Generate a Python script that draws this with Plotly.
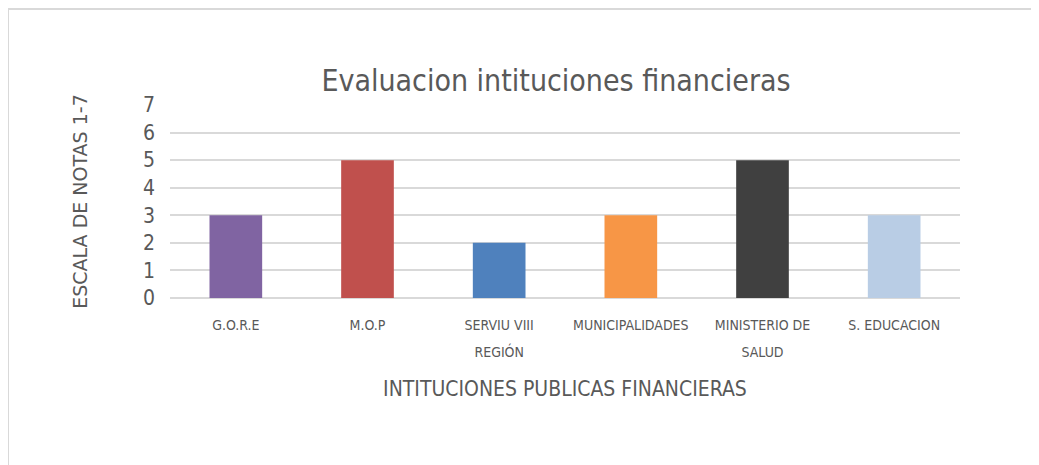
import plotly.graph_objects as go

categories = ["G.O.R.E", "M.O.P", "SERVIU VIII|REGIÓN", "MUNICIPALIDADES", "MINISTERIO DE|SALUD", "S. EDUCACION"]
values = [3, 5, 2, 3, 5, 3]
colors = ["#8064A2", "#C0504D", "#4F81BD", "#F79646", "#404040", "#B9CDE5"]
y_ticks = [0, 1, 2, 3, 4, 5, 6, 7]

# page body has an 8px offset
OFF = 8
W, H = 1031, 457
ML, MR, MT, MB = 170 - OFF, 79, 105 - OFF, 167
FONT = "Liberation Sans Narrow, DejaVu Sans Condensed, Arial Narrow, sans-serif"

def fmt(label):
    return "<br>".join('<span style="font-size:14px">%s</span>' % p for p in label.split("|"))

tick_text = [fmt(c) for c in categories]

fig = go.Figure(go.Bar(x=list(range(len(categories))), y=values,
                       marker=dict(color=colors, line=dict(width=0)), showlegend=False))

pw = W - ML - MR
ph = H - MT - MB
def px_x(p):
    return (p - OFF - ML) / pw
def px_y(p):
    return (H - MB - (p - OFF)) / ph

fig.update_layout(
    width=W, height=H,
    margin=dict(l=ML, r=MR, t=MT, b=MB),
    paper_bgcolor="white", plot_bgcolor="white",
    font=dict(family=FONT, color="#595959"),
    bargap=0.6,
    title=dict(text="Evaluacion intituciones financieras", x=px_x(556), xref="paper", xanchor="center",
               y=1 - (80 - OFF) / H, yanchor="middle", font=dict(size=30, color="#595959", family=FONT)),
    xaxis=dict(tickvals=list(range(len(categories))), ticktext=tick_text, range=[-0.5, len(categories) - 0.5],
               showgrid=False, showline=False, zeroline=False, ticks="",
               tickfont=dict(size=21, color="#595959"), ticklabelstandoff=10,
               title=dict(text="INTITUCIONES PUBLICAS FINANCIERAS", font=dict(size=21, color="#595959"), standoff=22)),
    yaxis=dict(range=[0, 7], tickvals=y_ticks, showgrid=True, gridcolor="#D9D9D9", gridwidth=2,
               zeroline=True, zerolinecolor="#D9D9D9", zerolinewidth=2, showline=False,
               tickfont=dict(size=21, color="#595959"), ticklabelstandoff=14,
               title=dict(text="ESCALA DE NOTAS 1-7", font=dict(size=19, color="#595959", family="DejaVu Sans, sans-serif"),
                          standoff=50)),
    shapes=[
        dict(type="line", xref="paper", yref="paper", x0=px_x(8), x1=px_x(1045), y0=px_y(9), y1=px_y(9),
             line=dict(color="#D9D9D9", width=2)),
        dict(type="line", xref="paper", yref="paper", x0=px_x(8), x1=px_x(8), y0=px_y(9), y1=px_y(470),
             line=dict(color="#D9D9D9", width=2)),
    ],
)

fig.write_html("out.html")
